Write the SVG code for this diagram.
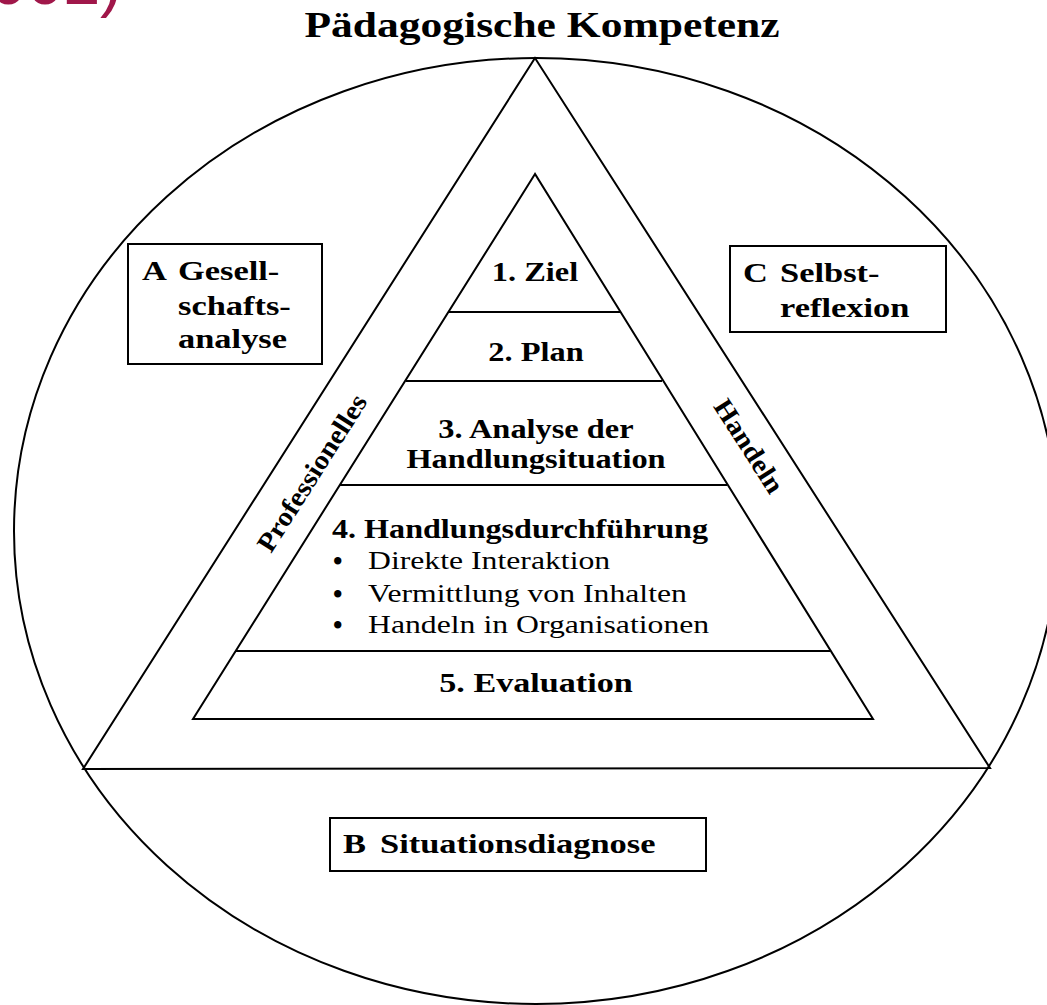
<svg xmlns="http://www.w3.org/2000/svg" width="1047" height="1005" viewBox="0 0 1047 1005">
<style>
.ln{fill:none;stroke:#000;stroke-width:2}
.bx{fill:#fff;stroke:#000;stroke-width:2}
.b{font-family:"Liberation Serif","Times New Roman",serif;font-weight:bold;fill:#000}
.r{font-family:"Liberation Serif","Times New Roman",serif;font-weight:normal;fill:#000}
.m{text-anchor:middle}
.bul{font-family:"Liberation Serif","Times New Roman",serif;font-size:27px;font-weight:bold;fill:#000}
</style>
<rect width="1047" height="1005" fill="#fff"/>
<text x="-10" y="3.5" font-family="Liberation Sans, Arial, sans-serif" font-size="66" fill="#a0174a">002)</text>
<text class="b m" font-size="36" transform="translate(542,37) scale(1.21,1)">Pädagogische Kompetenz</text>
<g id="circle">
<ellipse class="ln" cx="536" cy="531" rx="522" ry="473"/>
</g>
<g id="outer-triangle">
<polygon class="ln" points="535,58 83,769 990,768"/>
<text class="b m" font-size="27" transform="translate(312,473) rotate(-57.5) scale(1.07,1)" y="9">Professionelles</text>
<text class="b m" font-size="27" transform="translate(749,446) rotate(57.3) scale(1.07,1)" y="9">Handeln</text>
</g>
<g id="pyramid">
<polygon class="ln" points="535,174 193,719 873,719"/>
<line class="ln" x1="449" y1="312" x2="620" y2="312"/>
<line class="ln" x1="406" y1="381" x2="662" y2="381"/>
<line class="ln" x1="340" y1="485" x2="727" y2="485"/>
<line class="ln" x1="236" y1="651" x2="830" y2="651"/>
</g>
<g id="step1"><text class="b m" font-size="27" transform="translate(535,281) scale(1.2,1)">1. Ziel</text></g>
<g id="step2"><text class="b m" font-size="27" transform="translate(536,361) scale(1.2,1)">2. Plan</text></g>
<g id="step3">
<text class="b m" font-size="27" transform="translate(536,438) scale(1.2,1)">3. Analyse der</text>
<text class="b m" font-size="27" transform="translate(536,468) scale(1.2,1)">Handlungsituation</text>
</g>
<g id="step4">
<text class="b" font-size="27" transform="translate(332,538) scale(1.19,1)">4. Handlungsdurchführung</text>
<text class="bul" x="333" y="570">•</text>
<text class="bul" x="333" y="603">•</text>
<text class="bul" x="333" y="634">•</text>
<text class="r" font-size="26" transform="translate(368,569) scale(1.22,1)">Direkte Interaktion</text>
<text class="r" font-size="26" transform="translate(368,602) scale(1.22,1)">Vermittlung von Inhalten</text>
<text class="r" font-size="26" transform="translate(368,633) scale(1.22,1)">Handeln in Organisationen</text>
</g>
<g id="step5"><text class="b m" font-size="28" transform="translate(536,692) scale(1.22,1)">5. Evaluation</text></g>
<g id="boxA">
<rect class="bx" x="128" y="244" width="194" height="120"/>
<text class="b" font-size="28" transform="translate(142,280) scale(1.23,1)">A</text>
<text class="b" font-size="28" transform="translate(178,280) scale(1.23,1)">Gesell-</text>
<text class="b" font-size="28" transform="translate(178,315) scale(1.23,1)">schafts-</text>
<text class="b" font-size="28" transform="translate(178,348) scale(1.23,1)">analyse</text>
</g>
<g id="boxC">
<rect class="bx" x="730" y="246" width="216" height="86"/>
<text class="b" font-size="28" transform="translate(743,282) scale(1.23,1)">C</text>
<text class="b" font-size="28" transform="translate(780,282) scale(1.23,1)">Selbst-</text>
<text class="b" font-size="28" transform="translate(780,317) scale(1.23,1)">reflexion</text>
</g>
<g id="boxB">
<rect class="bx" x="330" y="818" width="376" height="53"/>
<text class="b" font-size="28" transform="translate(343,853) scale(1.23,1)">B</text>
<text class="b" font-size="28" transform="translate(380,853) scale(1.23,1)">Situationsdiagnose</text>
</g>
<g id="connectors"></g>
</svg>
